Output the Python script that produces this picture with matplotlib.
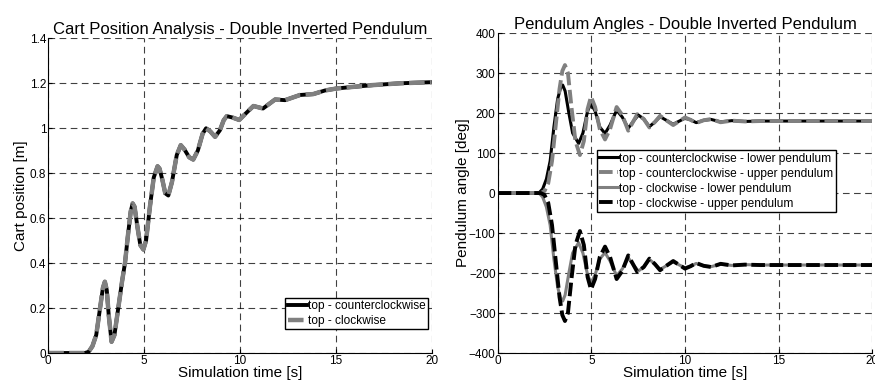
import matplotlib
matplotlib.use("Agg")
import matplotlib.pyplot as plt

plt.rcParams['font.family'] = ['Liberation Sans', 'DejaVu Sans']

# cart position (same for both directions)
t_cart = [0, 1.9, 2.1, 2.3, 2.5, 2.7, 2.85, 2.95, 3.05, 3.15, 3.3, 3.45, 3.65, 3.85, 4.0,
          4.15, 4.3, 4.4, 4.5, 4.65, 4.8, 4.96, 5.1, 5.3, 5.5, 5.7, 5.8, 5.95, 6.1, 6.26,
          6.45, 6.7, 6.91, 7.1, 7.35, 7.56, 7.8, 8.05, 8.23, 8.45, 8.7, 8.95, 9.15, 9.31,
          9.6, 9.96, 10.3, 10.7, 11.2, 11.83, 12.35, 13.13, 13.82, 14.43, 15.04, 15.9,
          16.95, 18.35, 20]
x_ccw = [0, 0, 0.005, 0.03, 0.08, 0.2, 0.29, 0.317, 0.28, 0.17, 0.05, 0.08, 0.2, 0.32, 0.40,
         0.52, 0.63, 0.665, 0.65, 0.56, 0.48, 0.46, 0.5, 0.65, 0.78, 0.83, 0.82, 0.77, 0.71, 0.70,
         0.76, 0.88, 0.924, 0.905, 0.87, 0.86, 0.9, 0.975, 0.999, 0.985, 0.961, 0.99, 1.035, 1.053,
         1.047, 1.036, 1.065, 1.098, 1.087, 1.127, 1.124, 1.147, 1.151, 1.167, 1.176, 1.183,
         1.191, 1.199, 1.204]
x_cw = list(x_ccw)

# pendulum angles, counterclockwise swing-up
t_low = [0, 2.2, 2.4, 2.6, 2.8, 3.0, 3.2, 3.35, 3.47, 3.6, 3.8, 4.0, 4.32, 4.55, 4.8, 4.98,
         5.2, 5.45, 5.73, 6.0, 6.35, 6.65, 6.97, 7.25, 7.51, 7.8, 8.1, 8.4, 8.67, 9.0, 9.37,
         9.7, 10.0, 10.3, 10.6, 11.0, 11.4, 11.9, 12.5, 13.2, 14, 20]
low_ccw = [0, 0, 10, 35, 80, 165, 235, 262, 270, 255, 200, 150, 124, 150, 205, 224,
           205, 165, 149, 170, 207, 190, 162, 180, 195, 185, 166, 178, 191, 182, 172,
           180, 187, 183, 176, 182, 184, 178, 181, 179, 180, 180]
t_up = [0, 2.3, 2.5, 2.7, 2.9, 3.1, 3.3, 3.45, 3.59, 3.75, 3.95, 4.15, 4.39, 4.6, 4.8, 4.98,
        5.2, 5.45, 5.73, 6.0, 6.35, 6.65, 6.97, 7.25, 7.45, 7.8, 8.1, 8.4, 8.67, 9.0, 9.37,
        9.7, 10.0, 10.3, 10.6, 11.0, 11.4, 11.9, 12.5, 13.2, 14, 20]
up_ccw = [0, 0, 5, 25, 80, 170, 260, 305, 320, 300, 210, 130, 95, 130, 210, 241,
          215, 160, 134, 160, 215, 195, 156, 180, 197, 185, 164, 178, 193, 182, 170,
          180, 189, 183, 175, 182, 185, 177, 181, 179, 180, 180]
# clockwise swing-up mirrors it
low_cw = [-v for v in low_ccw]
up_cw = [-v for v in up_ccw]

x_ticks = [0, 5, 10, 15, 20]
y_ticks_cart = [0, 0.2, 0.4, 0.6, 0.8, 1, 1.2, 1.4]
y_ticks_ang = [-400, -300, -200, -100, 0, 100, 200, 300, 400]

fig = plt.figure(figsize=(8.75, 3.85), dpi=100)
ax1 = fig.add_axes([0.0552, 0.0831, 0.4382, 0.818])
ax2 = fig.add_axes([0.5688, 0.0831, 0.4281, 0.831])


def style(ax):
    ax.grid(True, color='black', linestyle=(0, (6, 4)), linewidth=0.8, alpha=0.75)
    ax.set_axisbelow(True)
    ax.spines['top'].set_visible(False)
    ax.spines['right'].set_visible(False)
    ax.tick_params(direction='in', labelsize=8.5, length=3, pad=1.5)
    ax.set_xlim(0, 20)
    ax.set_xticks(x_ticks)
    ax.set_xlabel('Simulation time [s]', fontsize=11, labelpad=-1)


legend_kw = dict(fontsize=8.6, fancybox=False, edgecolor='black', framealpha=1,
                 borderpad=0.2, handlelength=1.6, handletextpad=0.1,
                 labelspacing=0.25, borderaxespad=0)

ax1.plot(t_cart, x_ccw, color='black', linewidth=2.8, label='top - counterclockwise')
ax1.plot(t_cart, x_cw, color='#808080', linewidth=3.2, linestyle=(0, (3.5, 1.2)),
         label='top - clockwise')
style(ax1)
ax1.set_ylim(0, 1.4)
ax1.set_yticks(y_ticks_cart)
ax1.set_yticklabels(['%g' % v for v in y_ticks_cart])
ax1.set_ylabel('Cart position [m]', fontsize=11, labelpad=1)
ax1.set_title('Cart Position Analysis - Double Inverted Pendulum', fontsize=12, pad=3)
leg1 = ax1.legend(loc='lower right', bbox_to_anchor=(0.991, 0.075), **legend_kw)
leg1.get_frame().set_linewidth(1.0)

ax2.plot(t_low, low_ccw, color='black', linewidth=2.2,
         label='top - counterclockwise - lower pendulum')
ax2.plot(t_up, up_ccw, color='#808080', linewidth=2.8, linestyle=(0, (3.5, 1.2)),
         label='top - counterclockwise - upper pendulum')
ax2.plot(t_low, low_cw, color='#808080', linewidth=2.2,
         label='top - clockwise - lower pendulum')
ax2.plot(t_up, up_cw, color='black', linewidth=2.8, linestyle=(0, (3.5, 1.2)),
         label='top - clockwise - upper pendulum')
style(ax2)
ax2.set_ylim(-400, 400)
ax2.set_yticks(y_ticks_ang)
ax2.set_ylabel('Pendulum angle [deg]', fontsize=11, labelpad=-1)
ax2.set_title('Pendulum Angles - Double Inverted Pendulum', fontsize=12, pad=3)
leg2 = ax2.legend(loc='upper left', bbox_to_anchor=(0.264, 0.634), **legend_kw)
leg2.get_frame().set_linewidth(1.0)

fig.savefig('out.png', dpi=100)
